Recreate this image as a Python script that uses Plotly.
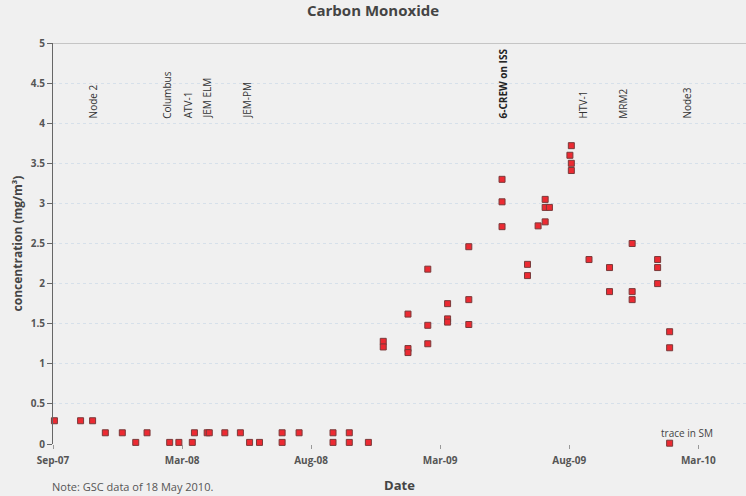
import pandas as pd
import plotly.graph_objects as go

# ---- data ----
dates = [
    "2007-09-03", "2007-10-10", "2007-10-27", "2007-11-14", "2007-12-08", "2007-12-27",
    "2008-01-12", "2008-02-13", "2008-02-26", "2008-03-16", "2008-03-19", "2008-04-06",
    "2008-04-09", "2008-05-01", "2008-05-23", "2008-06-05", "2008-06-19", "2008-07-21",
    "2008-07-21", "2008-08-14", "2008-10-01", "2008-10-01", "2008-10-24", "2008-10-24",
    "2008-11-20",
    "2008-12-11", "2008-12-11",
    "2009-01-15", "2009-01-15", "2009-01-15",
    "2009-02-12", "2009-02-12", "2009-02-12",
    "2009-03-12", "2009-03-12", "2009-03-12",
    "2009-04-11", "2009-04-11", "2009-04-11",
    "2009-05-28", "2009-05-28", "2009-05-28",
    "2009-07-03", "2009-07-03",
    "2009-07-18",
    "2009-07-28", "2009-07-28", "2009-07-28",
    "2009-08-03",
    "2009-09-01",
    "2009-09-03", "2009-09-03", "2009-09-03",
    "2009-09-28",
    "2009-10-27", "2009-10-27",
    "2009-11-28", "2009-11-28", "2009-11-28",
    "2010-01-03", "2010-01-03", "2010-01-03",
    "2010-01-20", "2010-01-20", "2010-01-20",
]
co_values = [
    0.29, 0.29, 0.29, 0.14, 0.14, 0.02,
    0.14, 0.02, 0.02, 0.02, 0.14, 0.14,
    0.14, 0.14, 0.14, 0.02, 0.02, 0.14,
    0.02, 0.14, 0.14, 0.02, 0.14, 0.02,
    0.02,
    1.28, 1.21,
    1.62, 1.19, 1.14,
    2.18, 1.48, 1.25,
    1.75, 1.56, 1.52,
    2.46, 1.80, 1.49,
    3.30, 3.02, 2.71,
    2.24, 2.10,
    2.72,
    3.05, 2.95, 2.77,
    2.95,
    3.60,
    3.72, 3.50, 3.41,
    2.30,
    2.20, 1.90,
    2.50, 1.90, 1.80,
    2.30, 2.20, 2.00,
    1.40, 1.20, 0.01,
]

event_names = ["Node 2", "Columbus", "ATV-1", "JEM ELM", "JEM-PM",
               "6-CREW on ISS", "HTV-1", "MRM2", "Node3"]
event_dates = ["2007-10-27", "2008-02-10", "2008-03-10", "2008-04-06", "2008-06-01",
               "2009-05-29", "2009-09-19", "2009-11-15", "2010-02-14"]
event_bold = [False, False, False, False, False, True, False, False, False]

tick_labels = ["Sep-07", "Mar-08", "Aug-08", "Mar-09", "Aug-09", "Mar-10"]
y_ticks = [0, 0.5, 1, 1.5, 2, 2.5, 3, 3.5, 4, 4.5, 5]

# ---- axis geometry ----
axis_start = pd.Timestamp("2007-09-01")
tick_step_days = 182.5
tick_vals = [axis_start + pd.Timedelta(days=tick_step_days * i) for i in range(len(tick_labels))]
axis_end = axis_start + pd.Timedelta(days=980)

BG = "#f0f0f0"
FONT = "Open Sans, Liberation Sans, Arial, sans-serif"

fig = go.Figure()
fig.add_trace(go.Scatter(
    x=pd.to_datetime(dates), y=co_values, mode="markers",
    marker=dict(symbol="square", size=6, color="#ec2a32",
                line=dict(color="#7a3a3a", width=1)),
    cliponaxis=False, showlegend=False, hoverinfo="x+y",
))

for name, d, b in zip(event_names, event_dates, event_bold):
    fig.add_annotation(
        x=pd.Timestamp(d), y=4.03, xref="x", yref="y",
        text=f"<b>{name}</b>" if b else name,
        textangle=-90, showarrow=False, xanchor="center", yanchor="bottom",
        font=dict(size=10, color="#333333" if not b else "#222222", family=FONT),
    )

fig.add_annotation(
    x=pd.Timestamp("2010-02-14"), y=0.03, xref="x", yref="y",
    text="trace in SM", showarrow=False, xanchor="center", yanchor="bottom",
    font=dict(size=10, color="#444444", family=FONT),
)
fig.add_annotation(
    x=-0.005, y=-0.107, xref="paper", yref="paper", text="Note: GSC data of 18 May 2010.",
    showarrow=False, xanchor="left", yanchor="middle",
    font=dict(size=11, color="#555555", family=FONT),
)

fig.update_layout(
    width=746, height=496,
    margin=dict(l=53, r=0, t=43, b=52),
    paper_bgcolor=BG, plot_bgcolor=BG,
    font=dict(family=FONT, color="#444444"),
    title=dict(text="<b>Carbon Monoxide</b>", x=0.5, xanchor="center", y=0.988, yanchor="top",
               font=dict(size=15, color="#444444", family=FONT)),
    xaxis=dict(
        type="date", range=[axis_start, axis_end], automargin=False,
        tickvals=tick_vals, ticktext=[f"<b>{t}</b>" for t in tick_labels],
        tickfont=dict(size=10, color="#555555"), ticklabelstandoff=3,
        showgrid=False, showline=False, zeroline=False,
        ticks="outside", ticklen=4, tickcolor="#999999",
        title=dict(text="<b>Date</b>", font=dict(size=13, color="#444444"), standoff=14),
    ),
    yaxis=dict(
        range=[0, 5], tickvals=y_ticks, automargin=False,
        ticktext=[f"<b>{v:g}</b>" for v in y_ticks],
        tickfont=dict(size=10, color="#555555"),
        showgrid=True, gridcolor="#d6e0ea", griddash="dot", gridwidth=1,
        showline=True, linecolor="#666666", linewidth=1, zeroline=False,
        ticks="outside", ticklen=5, tickcolor="#666666",
        title=dict(text="<b>concentration (mg/m³)</b>", font=dict(size=12, color="#444444"), standoff=5),
    ),
)
fig.add_shape(type="line", xref="paper", yref="y", x0=0, x1=1, y0=5, y1=5,
              line=dict(color="#9a9a9a", width=1))

fig.write_html("out.html", config={"displayModeBar": False},
               post_script="document.body.style.margin='0';document.body.style.overflow='hidden';"
                           "document.body.style.background='#f0f0f0';")
